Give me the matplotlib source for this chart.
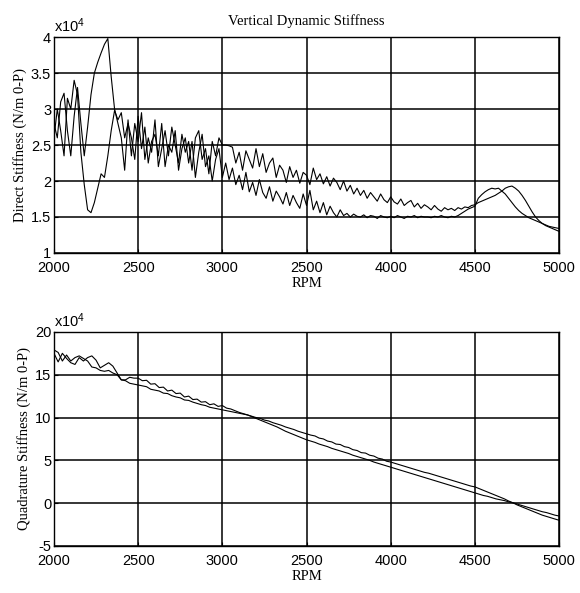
import numpy as np
import matplotlib
matplotlib.use("Agg")
import matplotlib.pyplot as plt

plt.rcParams['font.family'] = ['Liberation Sans', 'DejaVu Sans']
plt.rcParams['mathtext.default'] = 'regular'

# --- data (values in units of 1e4 N/m) ---
rpm_top = np.arange(2000, 5001, 20)

direct_a = [
    2.80, 2.60, 3.10, 3.22, 2.70, 2.35, 2.90, 3.30, 2.80, 2.35,
    2.75, 3.20, 3.50, 3.65, 3.78, 3.90, 3.98, 3.45, 3.00, 2.80,
    2.60, 2.15, 2.85,
    2.35, 2.80, 2.55, 2.95, 2.30, 2.60, 2.40, 2.85, 2.20, 2.45,
    2.70, 2.35, 2.75, 2.50, 2.25, 2.65, 2.40, 2.55, 2.15, 2.60,
    2.70, 2.30, 2.45, 2.10, 2.55, 2.35, 2.60, 2.50,
    2.50, 2.49, 2.47, 2.25, 2.40, 2.15, 2.42, 2.30, 2.18, 2.45,
    2.20, 2.38, 2.12, 2.25, 2.32, 2.05, 2.22, 2.15, 1.98, 2.20,
    2.05, 2.15, 1.97, 2.12, 2.08, 1.95, 2.18, 2.02, 2.10, 1.96,
    2.06, 1.93, 2.04, 1.98, 1.88, 2.00, 1.86, 1.94, 1.82, 1.90,
    1.80, 1.87, 1.76, 1.84, 1.78, 1.72, 1.82, 1.74, 1.70, 1.78,
    1.71, 1.68, 1.75, 1.66, 1.70, 1.73, 1.64, 1.69, 1.62, 1.67,
    1.64, 1.60, 1.66, 1.61, 1.58, 1.63, 1.60, 1.62, 1.59, 1.63,
    1.61, 1.64, 1.63, 1.66, 1.67,
    1.70, 1.72, 1.74, 1.76, 1.78, 1.80, 1.83, 1.86, 1.90, 1.92,
    1.93, 1.90, 1.86, 1.80, 1.73, 1.65, 1.57, 1.50, 1.45, 1.41,
    1.38, 1.36, 1.34, 1.32, 1.30,
]

direct_b = [
    2.60, 3.00, 2.70, 2.35, 3.15, 3.00, 3.40, 3.20, 2.40, 1.95,
    1.60, 1.56, 1.70, 1.90, 2.10, 2.05, 2.35, 2.70, 2.98, 2.85,
    2.95, 2.60, 2.80,
    2.60, 2.30, 2.90, 2.45, 2.75, 2.25, 2.55, 2.65, 2.35, 2.80,
    2.20, 2.50, 2.40, 2.70, 2.15, 2.45, 2.60, 2.25, 2.55, 2.05,
    2.40, 2.65, 2.20, 2.35, 2.00, 2.30, 2.45, 2.05,
    2.25, 2.02, 2.18, 1.95, 2.08, 1.88, 2.12, 1.85, 1.98, 1.80,
    2.02, 1.84, 1.76, 1.92, 1.72, 1.86, 1.78, 1.68, 1.84, 1.66,
    1.80, 1.70, 1.62, 1.82, 1.66, 1.87, 1.60, 1.72, 1.56, 1.70,
    1.53, 1.65, 1.56, 1.50, 1.60, 1.52, 1.55, 1.50, 1.54, 1.51,
    1.50, 1.53, 1.49, 1.52, 1.51, 1.48, 1.52, 1.50, 1.49, 1.51,
    1.49, 1.52, 1.50, 1.48, 1.51, 1.50, 1.52, 1.49, 1.51, 1.50,
    1.50, 1.49, 1.51, 1.50, 1.52, 1.50, 1.49, 1.51, 1.50, 1.52,
    1.55, 1.58, 1.61, 1.63, 1.65,
    1.76, 1.81, 1.85, 1.88, 1.90, 1.89, 1.90, 1.86, 1.82, 1.76,
    1.70, 1.64, 1.59, 1.55, 1.52, 1.49, 1.47, 1.45, 1.43, 1.41,
    1.39, 1.37, 1.36, 1.35, 1.34,
]

rpm_bot = np.arange(2000, 5001, 25)

quad_p = [
    17.9, 17.6, 16.6, 17.3, 16.6, 17.0, 17.2, 16.9, 16.6, 15.9,
    15.8, 15.5, 15.4, 15.5, 15.2, 15.0, 14.4, 14.3, 14.0, 13.9, 13.8,
    13.7, 13.6, 13.3, 13.2, 13.1, 12.85, 12.8, 12.55, 12.4, 12.3,
    12.05, 12.0, 11.8, 11.65, 11.5, 11.4, 11.2, 11.1, 11.0, 10.9,
    10.8, 10.7, 10.6, 10.5, 10.4, 10.3, 10.15, 10.0, 9.9, 9.7,
    9.6, 9.4, 9.25, 9.1, 8.9, 8.75, 8.6, 8.4, 8.25, 8.1,
    7.95, 7.85, 7.6, 7.5, 7.25, 7.15, 6.9, 6.85, 6.6, 6.5,
    6.25, 6.15, 5.9, 5.85, 5.6, 5.5, 5.25, 5.15, 4.9, 4.8,
    4.65, 4.5, 4.35, 4.2, 4.05, 3.9, 3.75, 3.6, 3.5, 3.35,
    3.2, 3.05, 2.9, 2.75, 2.6, 2.45, 2.3, 2.15, 2.0, 1.9,
    1.7, 1.5, 1.3, 1.1, 0.9, 0.7, 0.5, 0.25, 0.05, -0.2,
    -0.4, -0.6, -0.8, -1.0, -1.2, -1.4, -1.55, -1.7, -1.85, -2.0,
]

quad_q = [
    17.5, 16.5, 17.5, 16.9, 16.4, 16.2, 17.0, 16.6, 17.0, 17.2,
    16.7, 15.8, 16.1, 16.4, 16.0, 15.2, 14.4, 14.4, 14.7, 14.6, 14.6,
    14.3, 14.35, 13.9, 13.95, 13.5, 13.55, 13.1, 13.2, 12.8, 12.85,
    12.4, 12.5, 12.1, 12.15, 11.8, 11.85, 11.5, 11.6, 11.3, 11.4,
    11.1, 11.0, 10.8, 10.6, 10.45, 10.3, 10.1, 9.9, 9.7, 9.5,
    9.3, 9.1, 8.9, 8.65, 8.4, 8.2, 8.0, 7.8, 7.6, 7.4,
    7.25, 7.1, 6.9, 6.75, 6.6, 6.4, 6.25, 6.1, 5.95, 5.8,
    5.6, 5.45, 5.3, 5.15, 5.0, 4.8, 4.65, 4.5, 4.35, 4.2,
    4.05, 3.9, 3.75, 3.6, 3.45, 3.3, 3.15, 3.0, 2.85, 2.7,
    2.55, 2.4, 2.25, 2.1, 1.95, 1.8, 1.65, 1.5, 1.35, 1.2,
    1.05, 0.9, 0.8, 0.65, 0.5, 0.4, 0.3, 0.15, 0.05, -0.1,
    -0.25, -0.4, -0.55, -0.7, -0.85, -1.0, -1.1, -1.25, -1.4, -1.5,
]

x_ticks = [2000, 2500, 3000, 3500, 4000, 4500, 5000]
x_ticklabels = ['2000', '2500', '3000', '2500', '4000', '4500', '5000']
top_yticks = [1, 1.5, 2, 2.5, 3, 3.5, 4]
top_yticklabels = ['1', '1.5', '2', '2.5', '3', '3.5', '4']
bot_yticks = [-5, 0, 5, 10, 15, 20]
bot_yticklabels = ['-5', '0', '5', '10', '15', '20']

serif = ['Liberation Serif', 'DejaVu Serif']

fig = plt.figure(figsize=(5.8, 5.93), dpi=100)
ax1 = fig.add_axes([0.093, 0.5734, 0.871, 0.364])
ax2 = fig.add_axes([0.093, 0.0793, 0.871, 0.361])


def style_axes(ax, yticks, yticklabels, ylim, ylabel):
    ax.set_xlim(2000, 5000)
    ax.set_ylim(*ylim)
    ax.set_xticks(x_ticks)
    ax.set_xticklabels(x_ticklabels)
    ax.set_yticks(yticks)
    ax.set_yticklabels(yticklabels)
    ax.tick_params(direction='in', length=3, width=0.8, labelsize=10.5)
    ax.tick_params(axis='x', pad=6)
    ax.tick_params(axis='y', pad=2)
    ax.grid(True, color='black', linewidth=1.1)
    ax.set_axisbelow(True)
    for s in ax.spines.values():
        s.set_linewidth(1.0)
    ax.set_xlabel('RPM', family=serif, fontsize=10.5, labelpad=1)
    ax.set_ylabel(ylabel, family=serif, fontsize=10.5, labelpad=3)
    ax.text(0.0, 1.01, 'x10$^{4}$', transform=ax.transAxes,
            ha='left', va='bottom', fontsize=10.5)


ax1.plot(rpm_top, direct_a, color='black', linewidth=0.8)
ax1.plot(rpm_top, direct_b, color='black', linewidth=0.8)
style_axes(ax1, top_yticks, top_yticklabels, (1, 4), 'Direct Stiffness (N/m 0-P)')
ax1.set_title('Vertical Dynamic Stiffness', family=serif, fontsize=10.5, pad=9)

ax2.plot(rpm_bot, quad_p, color='black', linewidth=0.8)
ax2.plot(rpm_bot, quad_q, color='black', linewidth=0.8)
style_axes(ax2, bot_yticks, bot_yticklabels, (-5, 20), 'Quadrature Stiffness (N/m 0-P)')

fig.savefig('out.png', dpi=100)
